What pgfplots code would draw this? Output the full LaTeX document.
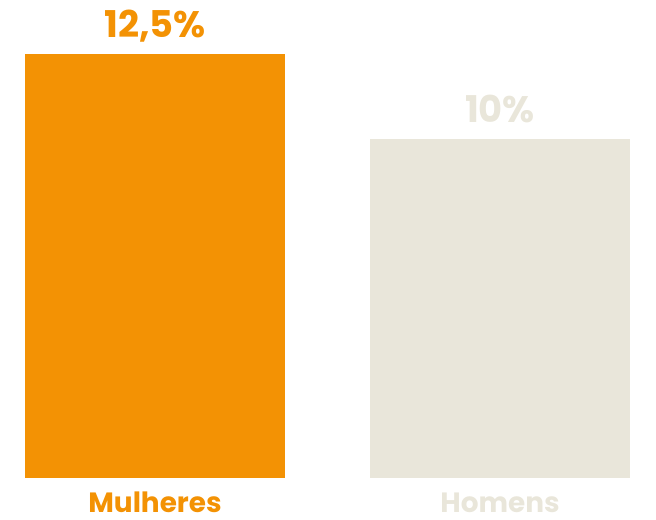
\documentclass[border=0pt]{standalone}
\usepackage{fontspec}
\setmainfont{Poppins}
\usepackage{pgfplots}
\pgfplotsset{compat=1.18}
\definecolor{laranja}{HTML}{F39204}
\definecolor{bege}{HTML}{E9E6DA}

\begin{document}
\begin{tikzpicture}[x=1bp,y=1bp]
  \useasboundingbox (0,0) rectangle (656,520);
  \begin{axis}[
      at={(0,42bp)}, anchor=south west,
      scale only axis,
      width=656bp, height=424bp,
      xmin=-0.4493, xmax=1.4522,
      ymin=0, ymax=12.5,
      clip=false,
      axis line style={draw=none},
      tick style={draw=none},
      ytick=\empty,
      xtick={0,1},
      xticklabels={\textcolor{laranja}{Mulheres},\textcolor{bege}{Homens}},
      xticklabel style={anchor=base, yshift=-30bp, inner sep=0pt, text depth=0pt,
        font=\bfseries\fontsize{28}{32}\selectfont},
      ybar, bar width=260bp, bar shift=0pt,
      nodes near coords,
      nodes near coords style={anchor=base, yshift=16bp, inner sep=0pt,
        font=\bfseries\fontsize{37}{44}\selectfont},
      point meta=explicit symbolic,
    ]
    \addplot[fill=laranja, draw=none, nodes near coords style={text=laranja}]
      coordinates {(0,12.5) [12,5\%]};
    \addplot[fill=bege, draw=none, nodes near coords style={text=bege}]
      coordinates {(1,10) [10\%]};
  \end{axis}
\end{tikzpicture}
\end{document}
